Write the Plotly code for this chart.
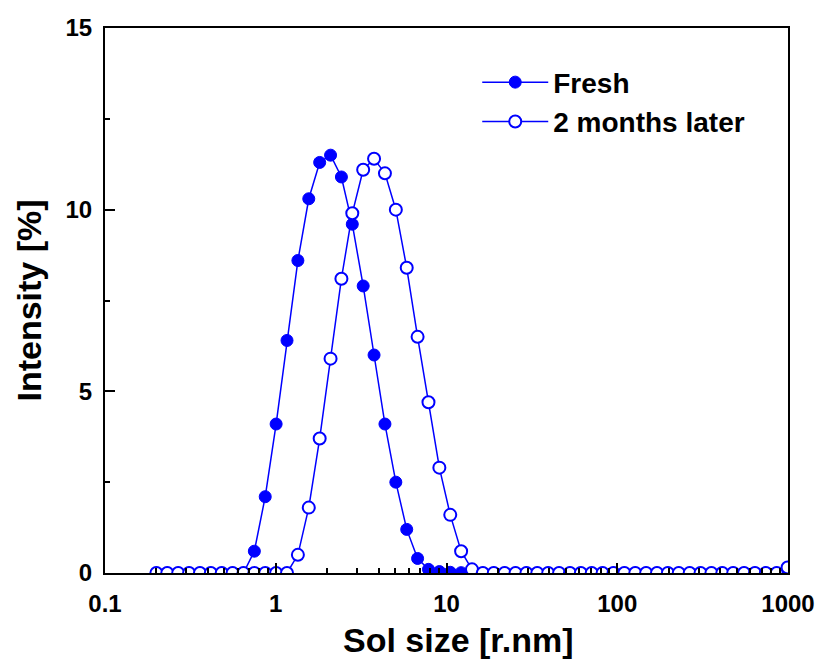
import plotly.graph_objects as go

# Radius bins (nm)
sizes = [0.2, 0.2316, 0.2683, 0.3107, 0.3598, 0.4166, 0.4825, 0.5587, 0.647, 0.7493,
         0.8677, 1.005, 1.164, 1.348, 1.561, 1.808, 2.094, 2.424, 2.807, 3.251,
         3.765, 4.360, 5.050, 5.848, 6.772, 7.843, 9.082, 10.52, 12.18, 14.10,
         16.33, 18.91, 21.90, 25.37, 29.38, 34.02, 39.40, 45.63, 52.84, 61.19,
         70.86, 82.06, 95.04, 110.1, 127.5, 147.6, 170.9, 197.9, 229.2, 265.5,
         307.4, 356.0, 412.3, 477.5, 553.0, 640.4, 741.6, 858.8, 994.6]

fresh = [0, 0, 0, 0, 0, 0, 0, 0, 0, 0.6,
         2.1, 4.1, 6.4, 8.6, 10.3, 11.3, 11.5, 10.9, 9.6, 7.9,
         6.0, 4.1, 2.5, 1.2, 0.4, 0.1, 0.04, 0.02, 0.01, 0,
         0, 0, 0, 0, 0, 0, 0, 0, 0, 0,
         0, 0, 0, 0, 0, 0, 0, 0, 0, 0,
         0, 0, 0, 0, 0, 0, 0, 0, 0]

later = [0, 0, 0, 0, 0, 0, 0, 0, 0, 0,
         0, 0, 0, 0.5, 1.8, 3.7, 5.9, 8.1, 9.9, 11.1,
         11.4, 11.0, 10.0, 8.4, 6.5, 4.7, 2.9, 1.6, 0.6, 0.1,
         0, 0, 0, 0, 0, 0, 0, 0, 0, 0,
         0, 0, 0, 0, 0, 0, 0, 0, 0, 0,
         0, 0, 0, 0, 0, 0, 0, 0, 0.15]

x_ticks = [0.1, 1, 10, 100, 1000]
x_ticklabels = ["0.1", "1", "10", "100", "1000"]
y_ticks = [0, 5, 10, 15]

BLUE = "#0000FF"
FONT = "Liberation Sans, Arial, sans-serif"

fig = go.Figure()
fig.add_trace(go.Scatter(
    x=sizes, y=fresh, name="Fresh", mode="lines+markers",
    line=dict(color=BLUE, width=1.5),
    marker=dict(symbol="circle", size=12, color=BLUE, line=dict(color=BLUE, width=1)),
    legendgroup="a",
))
fig.add_trace(go.Scatter(
    x=sizes, y=later, name="2 months later", mode="lines+markers",
    line=dict(color=BLUE, width=1.5),
    marker=dict(symbol="circle", size=12, color="white", line=dict(color=BLUE, width=2)),
    legendgroup="b",
))

fig.update_layout(
    width=827, height=661,
    margin=dict(l=105, r=31, t=28, b=88),
    plot_bgcolor="white", paper_bgcolor="white",
    font=dict(family=FONT, color="black"),
    showlegend=True,
    legend=dict(
        x=0.545, y=0.946, xanchor="left", yanchor="top",
        font=dict(family=FONT, size=28, weight="bold", color="black"),
        bgcolor="rgba(0,0,0,0)", itemwidth=66, tracegroupgap=0,
    ),
    xaxis=dict(
        type="log", range=[-1, 3],
        tickvals=x_ticks, ticktext=x_ticklabels,
        ticks="inside", ticklen=10, tickwidth=2, tickcolor="black",
        minor=dict(ticks="inside", ticklen=5, tickwidth=1.5, tickcolor="black", dtick="D1"),
        showline=True, linewidth=2, linecolor="black", mirror=True,
        showgrid=False, zeroline=False,
        ticklabelstandoff=8,
        tickfont=dict(family=FONT, size=24, weight="bold"),
    ),
    yaxis=dict(
        range=[0, 15],
        tickvals=y_ticks,
        ticks="inside", ticklen=10, tickwidth=2, tickcolor="black",
        minor=dict(ticks="inside", ticklen=5, tickwidth=1.5, tickcolor="black", dtick=2.5),
        showline=True, linewidth=2, linecolor="black", mirror=True,
        showgrid=False, zeroline=False,
        ticklabelstandoff=6,
        tickfont=dict(family=FONT, size=24, weight="bold"),
        title=dict(text="Intensity [%]", font=dict(family=FONT, size=34, weight="bold"), standoff=14),
    ),
    annotations=[dict(
        text="Sol size [r.nm]", xref="paper", yref="paper", x=0.518, y=0,
        xanchor="center", yanchor="middle", yshift=-67, showarrow=False,
        font=dict(family=FONT, size=34, weight="bold", color="black"),
    )],
)

fig.write_html("out.html", config={"displayModeBar": False},
               post_script="document.body.style.margin='0';")
